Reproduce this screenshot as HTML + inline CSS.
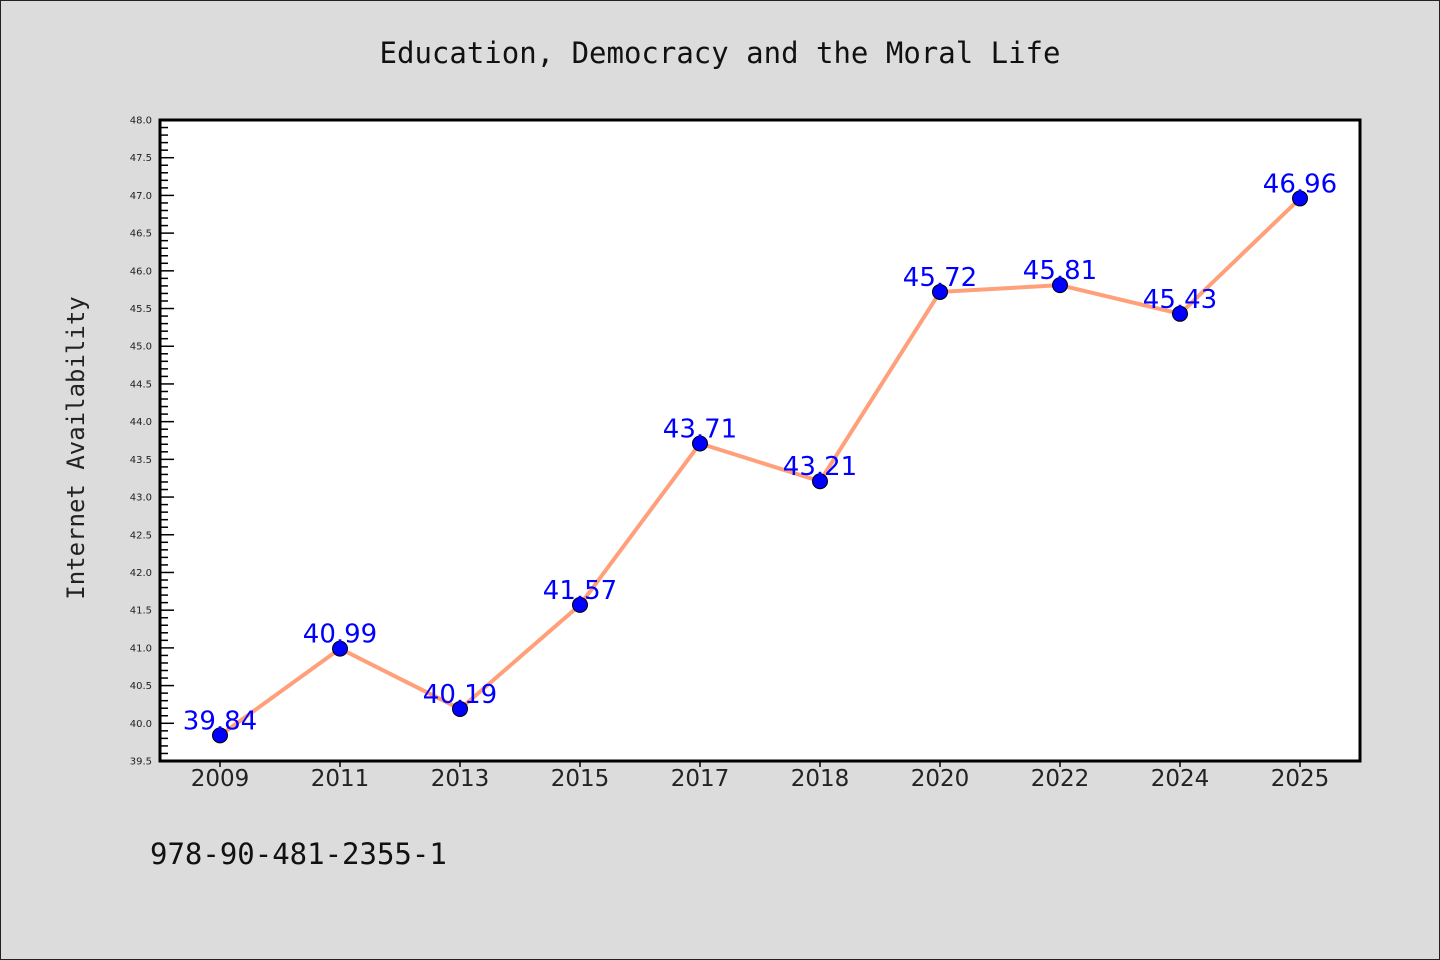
<!DOCTYPE html>
<html><head><meta charset="utf-8"><style>
body{margin:0;background:#dcdcdc;}
svg{display:block;}
</style></head><body>
<svg width="1440" height="960" xmlns="http://www.w3.org/2000/svg">
<rect x="0.5" y="0.5" width="1439" height="959" fill="#dcdcdc" stroke="#222" stroke-width="1"/>
<text x="720" y="63" text-anchor="middle" font-family="DejaVu Sans Mono, monospace" font-size="29" fill="#111">Education, Democracy and the Moral Life</text>
<rect x="160" y="120" width="1200" height="641" fill="#fff"/>
<g id="grid"></g>
<g id="marks"></g>
<rect x="160" y="120" width="1200" height="641" fill="none" stroke="#000" stroke-width="3"/>
<text transform="translate(84,448) rotate(-90)" text-anchor="middle" font-family="DejaVu Sans Mono, monospace" font-size="24" fill="#222">Internet Availability</text>
<text x="150" y="864" font-family="DejaVu Sans Mono, monospace" font-size="29" fill="#111">978-90-481-2355-1</text>
</svg>
<script>
const categories = ['2009','2011','2013','2015','2017','2018','2020','2022','2024','2025'];
const values = [39.84,40.99,40.19,41.57,43.71,43.21,45.72,45.81,45.43,46.96];
const yTicks = [39.5,40.0,40.5,41.0,41.5,42.0,42.5,43.0,43.5,44.0,44.5,45.0,45.5,46.0,46.5,47.0,47.5,48.0];
const NS='http://www.w3.org/2000/svg';
const L=160,R=1360,T=120,B=761,yMin=39.5,yMax=48;
function x(i){return L+(R-L)/categories.length*(i+0.5);}
function y(v){return B-(v-yMin)/(yMax-yMin)*(B-T);}
function mk(tag,attrs,parent){const e=document.createElementNS(NS,tag);for(const k in attrs)e.setAttribute(k,attrs[k]);parent.appendChild(e);return e;}
const g=document.getElementById('grid'), m=document.getElementById('marks');
// y ticks
yTicks.forEach(v=>{
  const t=mk('line',{x1:L,x2:L+14,y1:y(v),y2:y(v),stroke:'#000','stroke-width':1.5},g);
  
  
  const lb=mk('text',{x:L-8,y:y(v)+3.5,'text-anchor':'end','font-family':'DejaVu Sans, sans-serif','font-size':10,fill:'#222'},g);
  
  
  lb.textContent=v.toFixed(1);
});
for(let k=0;k<yTicks.length-1;k++){
  for(let j=1;j<5;j++){
    const v=yTicks[k]+(yTicks[k+1]-yTicks[k])*j/5;
    const t=mk('line',{x1:L,x2:L+8,y1:y(v),y2:y(v),stroke:'#000','stroke-width':1.5},g);
    
    
  }
}
categories.forEach((c,i)=>{
  const t=mk('line',{x1:x(i),x2:x(i),y1:B,y2:B+6,stroke:'#000','stroke-width':1.5},g);
  
  
  const lb=mk('text',{x:x(i),y:B+25,'text-anchor':'middle','font-family':'DejaVu Sans, sans-serif','font-size':23,fill:'#222'},g);
  
  
  lb.textContent=c;
});
const line=mk('polyline',{points:values.map((v,i)=>x(i)+','+y(v)).join(' '),fill:'none',stroke:'#ffa07a','stroke-width':4},m);


values.forEach((v,i)=>{
  const c=mk('circle',{cx:x(i),cy:y(v),r:7.5,fill:'#0000ff',stroke:'#000','stroke-width':1},m);
  
  
});
values.forEach((v,i)=>{
  const lb=mk('text',{x:x(i),y:y(v)-6,'text-anchor':'middle','font-family':'DejaVu Sans, sans-serif','font-size':26,fill:'#0000ff'},m);
  
  
  lb.textContent=v.toFixed(2);
});
</script>
</body></html>
